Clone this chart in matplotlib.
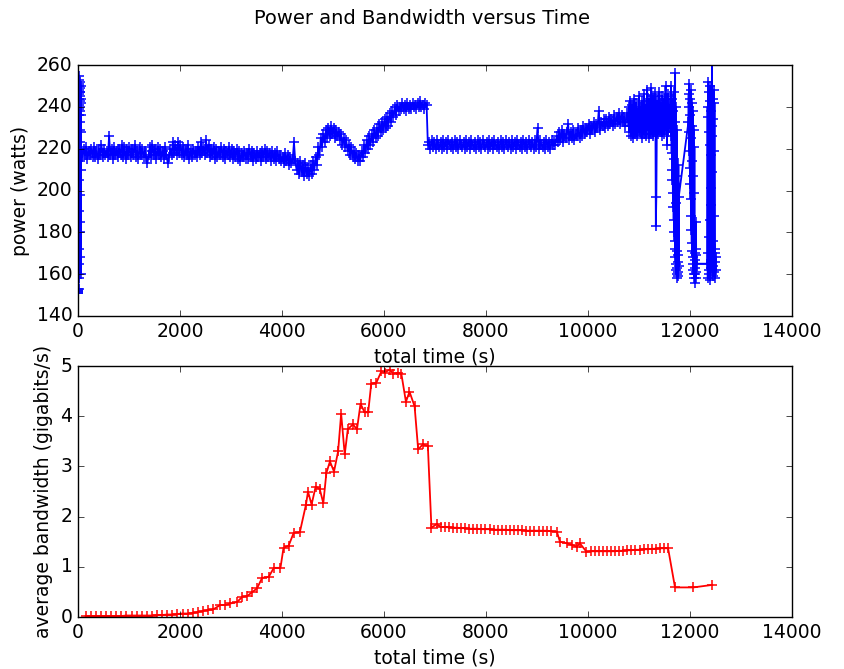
import numpy as np
import matplotlib
matplotlib.use('Agg')
import matplotlib.pyplot as plt

# ---- power trace: segments of (start time, sample interval, readings) ----
# start-up spike
PWR_A = (5, 1.2, [152, 151, 153, 152, 151, 153, 250, 172, 246, 241, 190, 253,
                  236, 165, 248, 244, 205, 255, 239, 158, 251, 229, 180, 247,
                  243, 214, 252, 238, 168, 245, 249, 198, 240, 233, 223, 247,
                  185, 242, 236, 160, 228, 250, 210, 244, 220, 219])
# idle plateau
PWR_B1 = (60, 25, [219, 216, 220, 217, 221, 215, 219, 217, 220, 216,
                   221, 216, 219, 215, 220, 217, 222, 216, 220, 217,
                   219, 216, 226, 217, 220, 215, 221, 217, 219, 216,
                   220, 217, 222, 216, 221, 215, 220, 217, 221, 216,
                   220, 217, 222, 216, 219, 215, 221, 217, 220, 216,
                   219, 216, 213, 217, 221, 216, 222, 217, 220, 215,
                   221, 217, 220, 216, 219, 215, 221, 217, 213, 216,
                   220, 217, 223, 218, 222, 217, 223, 218, 222, 217,
                   221, 216, 220, 217, 222, 215, 219, 216, 220, 217,
                   219, 216, 221, 217, 223, 218, 221, 217, 224, 218,
                   222, 216, 220, 217, 221, 215, 220, 216, 219, 217,
                   221, 216, 220, 215, 219, 217, 221, 216, 220, 215,
                   219, 216, 220, 215, 219, 214, 218, 216, 219, 215,
                   218, 215, 220, 216, 219, 214, 218, 215, 219, 216,
                   218, 214, 219, 216, 220, 215, 219, 216, 218, 214,
                   219, 215, 218, 214, 219, 215, 217, 214])
# dip, hump and ramp
PWR_B2 = (4010, 25, [216, 213, 218, 214, 217, 212, 216, 213, 215, 223,
                     214, 210, 213, 208, 214, 209, 212, 207, 213, 208,
                     211, 207, 212, 208, 214, 210, 216, 212, 221, 217,
                     225, 221, 227, 223, 229, 225, 230, 226, 231, 227,
                     230, 225, 229, 226, 228, 224, 227, 222, 225, 221,
                     224, 219, 222, 217, 221, 216, 219, 215, 218, 214,
                     217, 214, 219, 216, 222, 218, 224, 220, 226, 222,
                     227, 223, 229, 225, 230, 226, 232, 228, 233, 229,
                     234, 230, 235, 231, 237, 233, 238, 235, 240, 236,
                     241, 238, 240, 239, 242, 239, 241, 238, 242, 239,
                     241, 239, 242, 240, 241, 239, 242, 240, 243, 240,
                     241, 239, 242, 241])
# second plateau
PWR_C = (6860, 25, [222, 223, 220, 224, 221, 223, 220, 224, 222, 221,
                    223, 220, 224, 221, 223, 220, 224, 222, 221, 223,
                    220, 224, 221, 223, 220, 224, 222, 221, 223, 220,
                    224, 221, 223, 220, 224, 222, 221, 223, 220, 224,
                    221, 223, 220, 224, 222, 221, 223, 220, 224, 221,
                    223, 220, 224, 222, 221, 223, 220, 224, 221, 223,
                    220, 224, 222, 221, 223, 220, 224, 221, 223, 220,
                    224, 222, 221, 223, 220, 224, 221, 223, 220, 224,
                    222, 221, 223, 220, 224, 221, 230, 220, 224, 222,
                    221, 223, 220, 224, 221, 223, 220, 224, 222, 223])
# slow rise
PWR_D = (9360, 25, [222, 226, 223, 228, 224, 229, 223, 227, 225, 228,
                    232, 224, 228, 225, 229, 224, 227, 226, 230, 225,
                    229, 226, 231, 227, 230, 228, 232, 227, 231, 229,
                    233, 228, 232, 230, 238, 229, 233, 231, 234, 230,
                    234, 231, 235, 232, 234, 231, 236, 232, 235, 233,
                    237, 232, 236, 233, 235, 231, 237, 233])
# noisy phase
PWR_E = (10800, 10, [240, 228, 243, 231, 236, 226, 241, 233, 238, 225,
                     244, 229, 235, 227, 242, 231, 239, 226, 237, 230,
                     245, 228, 240, 232, 236, 225, 243, 230, 238, 227,
                     246, 231, 241, 226, 239, 233, 248, 229, 236, 225,
                     244, 230, 240, 227, 249, 232, 238, 226, 245, 231,
                     241, 228, 246, 183, 197, 232, 243, 227, 239, 230,
                     247, 228, 242, 233, 238, 226, 245, 231, 240, 227,
                     244, 229, 250, 232, 238, 222, 246, 228, 241, 230])
# three bursts
PWR_F1 = (11620, 4, [245, 232, 250, 226, 241, 218, 236, 210, 244, 205, 228, 199,
                     238, 192, 222, 186, 247, 180, 215, 176, 233, 172, 256, 168,
                     207, 165, 240, 162, 194, 160, 229, 163, 171, 158, 166, 161,
                     169, 159, 212, 164, 197])
PWR_F2 = (11970, 4, [233, 246, 228, 251, 219, 240, 211, 236, 203, 244, 196, 225,
                     188, 248, 181, 231, 175, 242, 171, 214, 168, 238, 165, 207,
                     162, 229, 160, 199, 158, 221, 163, 170, 156, 167, 160, 172,
                     158, 185, 161, 169, 165])
PWR_F3 = (12340, 4, [165, 240, 158, 252, 170, 235, 162, 247, 178, 228, 160, 243,
                     186, 222, 157, 250, 193, 217, 163, 238, 201, 231, 168, 261,
                     209, 226, 159, 244, 176, 234, 164, 248, 188, 219, 161, 242,
                     172, 166, 158, 170, 162, 168])
POWER_SEGMENTS = [PWR_A, PWR_B1, PWR_B2, PWR_C, PWR_D, PWR_E, PWR_F1, PWR_F2, PWR_F3]

# ---- average bandwidth ----
BW_TIME = [150, 250, 350, 450, 550, 650, 750, 850, 950, 1050, 1150, 1250, 1350,
           1450, 1550, 1650, 1750, 1850, 1950, 2050, 2150, 2250, 2350, 2450,
           2550, 2650, 2790, 2890, 2990, 3120, 3220, 3320, 3420, 3510, 3610,
           3740, 3840, 3970, 4030, 4130, 4230, 4350, 4470, 4510, 4580, 4660,
           4740, 4810, 4870, 4940, 5020, 5100, 5160, 5230, 5290, 5390, 5470,
           5540, 5620, 5690, 5750, 5850, 5950, 6010, 6110, 6180, 6270, 6340,
           6430, 6500, 6600, 6670, 6760, 6860, 6930, 7030, 7110, 7190, 7270,
           7350, 7430, 7510, 7590, 7670, 7750, 7830, 7910, 7990, 8070, 8150,
           8230, 8310, 8390, 8470, 8550, 8630, 8710, 8790, 8870, 8950, 9030,
           9110, 9190, 9270, 9390, 9450, 9580, 9680, 9780, 9840, 9970, 10050,
           10130, 10210, 10290, 10370, 10450, 10530, 10610, 10690, 10770, 10850,
           10930, 11010, 11090, 11170, 11250, 11330, 11410, 11490, 11570, 11706,
           12065, 12437]
BW_VALUE = [0.02, 0.02, 0.02, 0.02, 0.02, 0.02, 0.02, 0.02, 0.03, 0.03, 0.03,
            0.03, 0.03, 0.03, 0.04, 0.04, 0.05, 0.05, 0.06, 0.07, 0.07, 0.08,
            0.10, 0.12, 0.14, 0.15, 0.24, 0.24, 0.27, 0.30, 0.40, 0.42, 0.50,
            0.57, 0.78, 0.80, 0.98, 0.98, 1.38, 1.42, 1.68, 1.69, 2.24, 2.50,
            2.24, 2.60, 2.55, 2.27, 2.87, 3.10, 2.90, 3.30, 4.05, 3.24, 3.74,
            3.84, 3.74, 4.25, 4.08, 4.08, 4.65, 4.67, 4.90, 4.87, 4.93, 4.85,
            4.87, 4.85, 4.29, 4.49, 4.20, 3.34, 3.44, 3.41, 1.78, 1.85, 1.80,
            1.79, 1.79, 1.78, 1.78, 1.77, 1.77, 1.76, 1.76, 1.76, 1.75, 1.75,
            1.75, 1.74, 1.74, 1.74, 1.74, 1.73, 1.73, 1.73, 1.73, 1.72, 1.72,
            1.72, 1.72, 1.72, 1.72, 1.71, 1.70, 1.50, 1.47, 1.44, 1.40, 1.47,
            1.30, 1.31, 1.31, 1.31, 1.31, 1.31, 1.31, 1.31, 1.32, 1.32, 1.33,
            1.33, 1.34, 1.34, 1.35, 1.35, 1.36, 1.36, 1.37, 1.37, 1.37, 0.59,
            0.59, 0.64]

plt.style.use('classic')
plt.rcParams['font.family'] = 'DejaVu Sans'
plt.rcParams['font.size'] = 13.5

p_time, p_watts = [], []
for start, step, vals in POWER_SEGMENTS:
    p_time.extend(start + step * i for i in range(len(vals)))
    p_watts.extend(vals)

fig = plt.figure(figsize=(8.44, 6.69), dpi=100, facecolor='white')
fig.suptitle('Power and Bandwidth versus Time', fontsize=14, y=0.973, va='center')

line_kw = dict(lw=1.3, ms=7, mew=1.1)

ax1 = fig.add_axes([0.0924, 0.5277, 0.846, 0.375])
ax1.plot(p_time, p_watts, 'b+-', **line_kw)
ax1.set_xlim(0, 14000)
ax1.set_ylim(140, 260)
ax1.set_xlabel('total time (s)')
ax1.set_ylabel('power (watts)')

ax2 = fig.add_axes([0.0924, 0.0777, 0.846, 0.375])
ax2.plot(BW_TIME, BW_VALUE, 'r+-', **line_kw)
ax2.set_xlim(0, 14000)
ax2.set_ylim(0, 5)
ax2.set_xlabel('total time (s)')
ax2.set_ylabel('average bandwidth (gigabits/s)')

fig.savefig('out.png', dpi=100, facecolor='white')
